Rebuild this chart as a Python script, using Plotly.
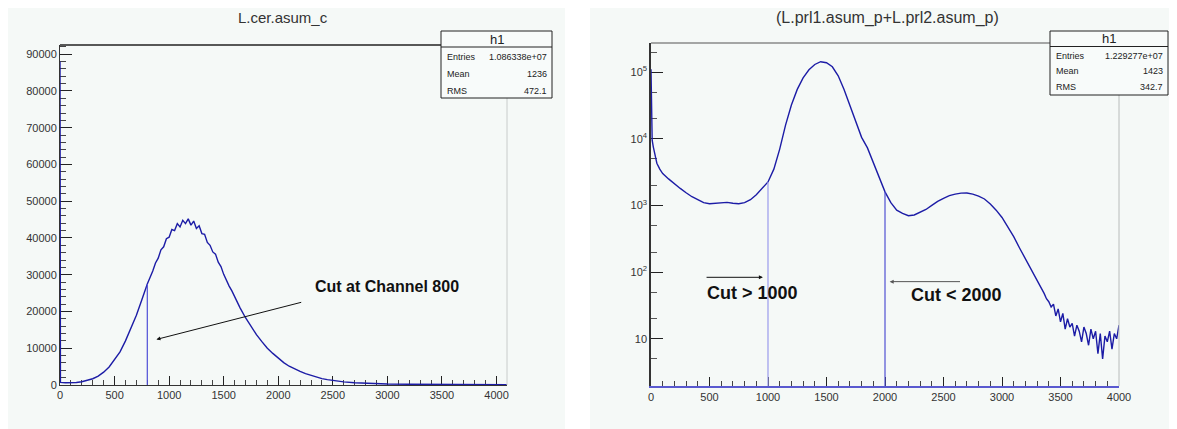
import numpy as np
import plotly.graph_objects as go

# ---------------- data ----------------
left_title = "L.cer.asum_c"
right_title = "(L.prl1.asum_p+L.prl2.asum_p)"

left_channels = [0, 4, 50, 100, 150, 200, 250, 300, 350, 400, 450, 500, 550, 600, 650, 700, 750, 800,
                 850, 875, 900, 925, 950, 975, 1000, 1025, 1050, 1075, 1100, 1125, 1150, 1175, 1200,
                 1225, 1250, 1275, 1300, 1325, 1350, 1375, 1400, 1425, 1450, 1475, 1500, 1525, 1550,
                 1575, 1600, 1650, 1700, 1750, 1800, 1850, 1900, 1950, 2000, 2050, 2100, 2150, 2200,
                 2250, 2300, 2350, 2400, 2450, 2500, 2600, 2700, 2800, 2900, 3000, 3200, 3400, 3600,
                 3800, 4000, 4096]
left_counts = [88000, 700, 600, 550, 700, 900, 1200, 1700, 2400, 3500, 4900, 6800, 9000, 12000, 15500,
               19000, 23200, 27500,
               31000, 33200, 34500, 36800, 37600, 39800, 40200, 42300, 42000, 43900, 43000, 44800,
               43900, 45200, 43500, 44600, 42600, 43300, 41200, 41000, 38800, 38000, 36200, 35600,
               33400, 32200, 30100, 28300, 26900, 25600, 24000, 21000, 18300, 15800, 13700, 11800,
               10000, 8600, 7300, 6100, 5100, 4300, 3700, 3100, 2600, 2150, 1750, 1450, 1200, 850,
               600, 450, 350, 280, 200, 150, 120, 100, 90, 80]

right_channels = [0, 4, 10, 20, 35, 50, 75, 100, 150, 200, 250, 300, 350, 400, 450, 500, 550, 600,
                  650, 700, 750, 800, 850, 900, 950, 1000, 1050, 1100, 1150, 1200, 1250, 1300, 1350,
                  1400, 1450, 1500, 1550, 1600, 1650, 1700, 1750, 1800, 1850, 1900, 1950, 2000, 2050,
                  2100, 2150, 2200, 2250, 2300, 2350, 2400, 2450, 2500, 2550, 2600, 2650, 2700, 2750,
                  2800, 2850, 2900, 2950, 3000, 3050, 3100, 3150, 3200, 3250, 3300, 3320, 3340, 3360,
                  3380, 3400, 3420, 3440, 3460, 3480, 3500, 3520, 3540, 3560, 3580, 3600, 3620, 3640,
                  3660, 3680, 3700, 3720, 3740, 3760, 3780, 3800, 3820, 3840, 3860, 3880, 3900, 3920,
                  3940, 3960, 3980, 4000]
right_counts = [110000, 12000, 9500, 7500, 5500, 4300, 3500, 3000, 2500, 2100, 1800, 1550, 1350, 1220,
                1100, 1060, 1080, 1100, 1110, 1080, 1060, 1100, 1220, 1450, 1800, 2250, 3500, 7000,
                16000, 32000, 55000, 82000, 108000, 130000, 143000, 138000, 120000, 88000, 55000,
                31000, 17500, 10500, 7300, 4500, 2700, 1600, 1100, 850, 760, 700, 720, 790, 870, 1000,
                1150, 1280, 1400, 1480, 1530, 1540, 1480, 1380, 1250, 1050, 850, 660, 480, 340, 230,
                160, 110, 75, 64, 55, 48, 40, 36, 30, 33, 22, 28, 18, 24, 14, 20, 15, 17, 11, 16, 13,
                9, 15, 12, 8, 14, 10, 13, 6, 12, 5, 11, 9, 13, 7, 12, 10, 16]

left_xticks = [0, 500, 1000, 1500, 2000, 2500, 3000, 3500, 4000]
left_yticks = [0, 10000, 20000, 30000, 40000, 50000, 60000, 70000, 80000, 90000]
right_xticks = [0, 500, 1000, 1500, 2000, 2500, 3000, 3500, 4000]
right_yticks = [10, 100, 1000, 10000, 100000]
right_yticklabels = ["10", "10<sup>2</sup>", "10<sup>3</sup>", "10<sup>4</sup>", "10<sup>5</sup>"]

left_stats_names = ["Entries", "Mean", "RMS"]
left_stats_values = ["1.086338e+07", "1236", "472.1"]
right_stats_names = ["Entries", "Mean", "RMS"]
right_stats_values = ["1.229277e+07", "1423", "342.7"]

left_cut = 800
right_cuts = [1000, 2000]
left_label = "Cut at Channel 800"
right_labels = ["Cut > 1000", "Cut < 2000"]

# ---------------- layout helpers ----------------
# the page places the figure 8px from the window's top-left corner
OFF = 8
W, H = 1177 - OFF, 429 - OFF
def px(x):
    return max(0.0, (x - OFF) / W)
def py(y):
    return min(1.0, 1 - (y - OFF) / H)

FONT = "Arial, Liberation Sans, Helvetica, sans-serif"
HIST = "#1c1ca6"
PANEL = "#f5f9f7"

fig = go.Figure()

fig.add_trace(go.Scatter(x=left_channels, y=left_counts, mode="lines",
                         line=dict(color=HIST, width=1.4), xaxis="x", yaxis="y",
                         showlegend=False, hoverinfo="skip"))
fig.add_trace(go.Scatter(x=right_channels, y=right_counts, mode="lines",
                         line=dict(color=HIST, width=1.4), xaxis="x2", yaxis="y2",
                         showlegend=False, hoverinfo="skip"))

# cut lines (height taken from the histogram at the cut channel)
lc = left_counts[left_channels.index(left_cut)]
fig.add_trace(go.Scatter(x=[left_cut, left_cut], y=[0, lc], mode="lines",
                         line=dict(color="#4e4ed6", width=1.2), xaxis="x", yaxis="y",
                         showlegend=False, hoverinfo="skip"))
cut_colors = ["#9a9aec", "#5050d2"]
for c, col in zip(right_cuts, cut_colors):
    v = right_counts[right_channels.index(c)]
    fig.add_trace(go.Scatter(x=[c, c], y=[1, v], mode="lines",
                             line=dict(color=col, width=1.2), xaxis="x2", yaxis="y2",
                             showlegend=False, hoverinfo="skip"))

tickfont = dict(family=FONT, size=11, color="#333333")

fig.update_layout(
    width=W, height=H, margin=dict(l=0, r=0, t=0, b=0, autoexpand=False),
    paper_bgcolor=PANEL, plot_bgcolor=PANEL, showlegend=False,
    xaxis=dict(domain=[px(60), px(507)], range=[0, 4096], tickvals=left_xticks,
               ticks="inside", ticklen=9, tickcolor="#222", showline=True, linecolor="#333",
               linewidth=1, showgrid=False, zeroline=False, tickfont=tickfont, automargin=False,
               minor=dict(dtick=100, ticks="inside", ticklen=5, tickcolor="#444", showgrid=False),
               anchor="y", layer="below traces"),
    yaxis=dict(domain=[py(385), py(45)], range=[0, 92500], tickvals=left_yticks, tickformat="d",
               ticks="inside", ticklen=12, tickcolor="#222", showline=True, linecolor="#333",
               linewidth=1, showgrid=False, zeroline=False, tickfont=tickfont, automargin=False,
               minor=dict(dtick=2000, ticks="inside", ticklen=6, tickcolor="#444", showgrid=False),
               anchor="x", layer="below traces"),
    xaxis2=dict(domain=[px(651), px(1119)], range=[0, 4000], tickvals=right_xticks,
                ticks="inside", ticklen=9, tickcolor="#222", showline=True, linecolor="#5a5ad0",
                linewidth=1.5, showgrid=False, zeroline=False, tickfont=tickfont, automargin=False,
                minor=dict(dtick=100, ticks="inside", ticklen=5, tickcolor="#444", showgrid=False),
                anchor="y2", layer="below traces"),
    yaxis2=dict(domain=[py(386), py(43)], type="log", range=[np.log10(1.96), 5.436],
                tickvals=right_yticks, ticktext=right_yticklabels,
                ticks="inside", ticklen=12, tickcolor="#222", showline=True, linecolor="#333",
                linewidth=1.5, showgrid=False, zeroline=False, tickfont=tickfont, automargin=False,
                minor=dict(ticks="inside", ticklen=6, tickcolor="#555", showgrid=False),
                anchor="x2", layer="below traces"),
)

shapes = []
# white gap between the two panels
shapes.append(dict(type="rect", xref="paper", yref="paper", x0=px(565), x1=px(590), y0=0, y1=1,
                   fillcolor="white", line=dict(width=0), layer="below"))
# top frame lines
shapes.append(dict(type="line", xref="paper", yref="paper", x0=px(60), x1=px(441), y0=py(45), y1=py(45),
                   line=dict(color="#222", width=1.5)))
shapes.append(dict(type="line", xref="paper", yref="paper", x0=px(651), x1=px(1050), y0=py(43), y1=py(43),
                   line=dict(color="#555", width=1.2)))
# right frame lines (grey)
shapes.append(dict(type="line", xref="paper", yref="paper", x0=px(507), x1=px(507), y0=py(98), y1=py(385),
                   line=dict(color="#c8cccb", width=1)))
shapes.append(dict(type="line", xref="paper", yref="paper", x0=px(1119), x1=px(1119), y0=py(95), y1=py(386),
                   line=dict(color="#b8bcbb", width=1)))

annotations = []

def stats_box(x0, x1, y0, y1, yh, rows_y, names, values):
    shapes.append(dict(type="rect", xref="paper", yref="paper", x0=px(x0), x1=px(x1), y0=py(y1), y1=py(y0),
                       fillcolor="#f8fbfa", line=dict(color="#222", width=1)))
    shapes.append(dict(type="line", xref="paper", yref="paper", x0=px(x0), x1=px(x1), y0=py(yh), y1=py(yh),
                       line=dict(color="#222", width=1)))
    annotations.append(dict(xref="paper", yref="paper", x=px((x0 + x1) / 2), y=py((y0 + yh) / 2),
                            text="h1", showarrow=False, xanchor="center", yanchor="middle",
                            font=dict(family=FONT, size=13, color="#222")))
    for n, v, ry in zip(names, values, rows_y):
        annotations.append(dict(xref="paper", yref="paper", x=px(x0 + 4), y=py(ry), text=n,
                                showarrow=False, xanchor="left", yanchor="middle",
                                font=dict(family=FONT, size=9, color="#222")))
        annotations.append(dict(xref="paper", yref="paper", x=px(x1 - 3), y=py(ry), text=v,
                                showarrow=False, xanchor="right", yanchor="middle",
                                font=dict(family=FONT, size=9, color="#222")))

stats_box(441, 552, 31, 98, 47, [57, 74, 91], left_stats_names, left_stats_values)
stats_box(1050, 1168, 31, 95, 46.5, [55.5, 71, 87.5], right_stats_names, right_stats_values)

# titles
annotations.append(dict(xref="paper", yref="paper", x=px(283), y=py(18), text=left_title,
                        showarrow=False, xanchor="center", yanchor="middle",
                        font=dict(family=FONT, size=15, color="#333")))
annotations.append(dict(xref="paper", yref="paper", x=px(887), y=py(18), text=right_title,
                        showarrow=False, xanchor="center", yanchor="middle",
                        font=dict(family=FONT, size=16, color="#333")))

# left annotation + arrow
annotations.append(dict(xref="paper", yref="paper", x=px(313), y=py(286), text="<b>%s</b>" % left_label,
                        showarrow=False, xanchor="left", yanchor="middle",
                        font=dict(family=FONT, size=16, color="#111")))
annotations.append(dict(xref="x", yref="y", x=884, y=12400, ax=2224, ay=22600, axref="x", ayref="y",
                        text="", showarrow=True, arrowhead=2, arrowsize=0.8, arrowwidth=1,
                        arrowcolor="#111"))

# right annotations + arrows (log axis: annotation y in log10)
annotations.append(dict(xref="paper", yref="paper", x=px(705), y=py(293), text="<b>%s</b>" % right_labels[0],
                        showarrow=False, xanchor="left", yanchor="middle",
                        font=dict(family=FONT, size=18, color="#111")))
annotations.append(dict(xref="paper", yref="paper", x=px(909), y=py(294.5), text="<b>%s</b>" % right_labels[1],
                        showarrow=False, xanchor="left", yanchor="middle",
                        font=dict(family=FONT, size=18, color="#111")))
annotations.append(dict(xref="x2", yref="y2", x=956, y=np.log10(83.6), ax=462, ay=np.log10(83.6),
                        axref="x2", ayref="y2", text="", showarrow=True, arrowhead=2, arrowsize=0.8,
                        arrowwidth=1, arrowcolor="#111"))
annotations.append(dict(xref="x2", yref="y2", x=2040, y=np.log10(72), ax=2654, ay=np.log10(72),
                        axref="x2", ayref="y2", text="", showarrow=True, arrowhead=2, arrowsize=0.8,
                        arrowwidth=1, arrowcolor="#555"))

fig.update_layout(shapes=shapes, annotations=annotations)
fig.write_html("out.html")
